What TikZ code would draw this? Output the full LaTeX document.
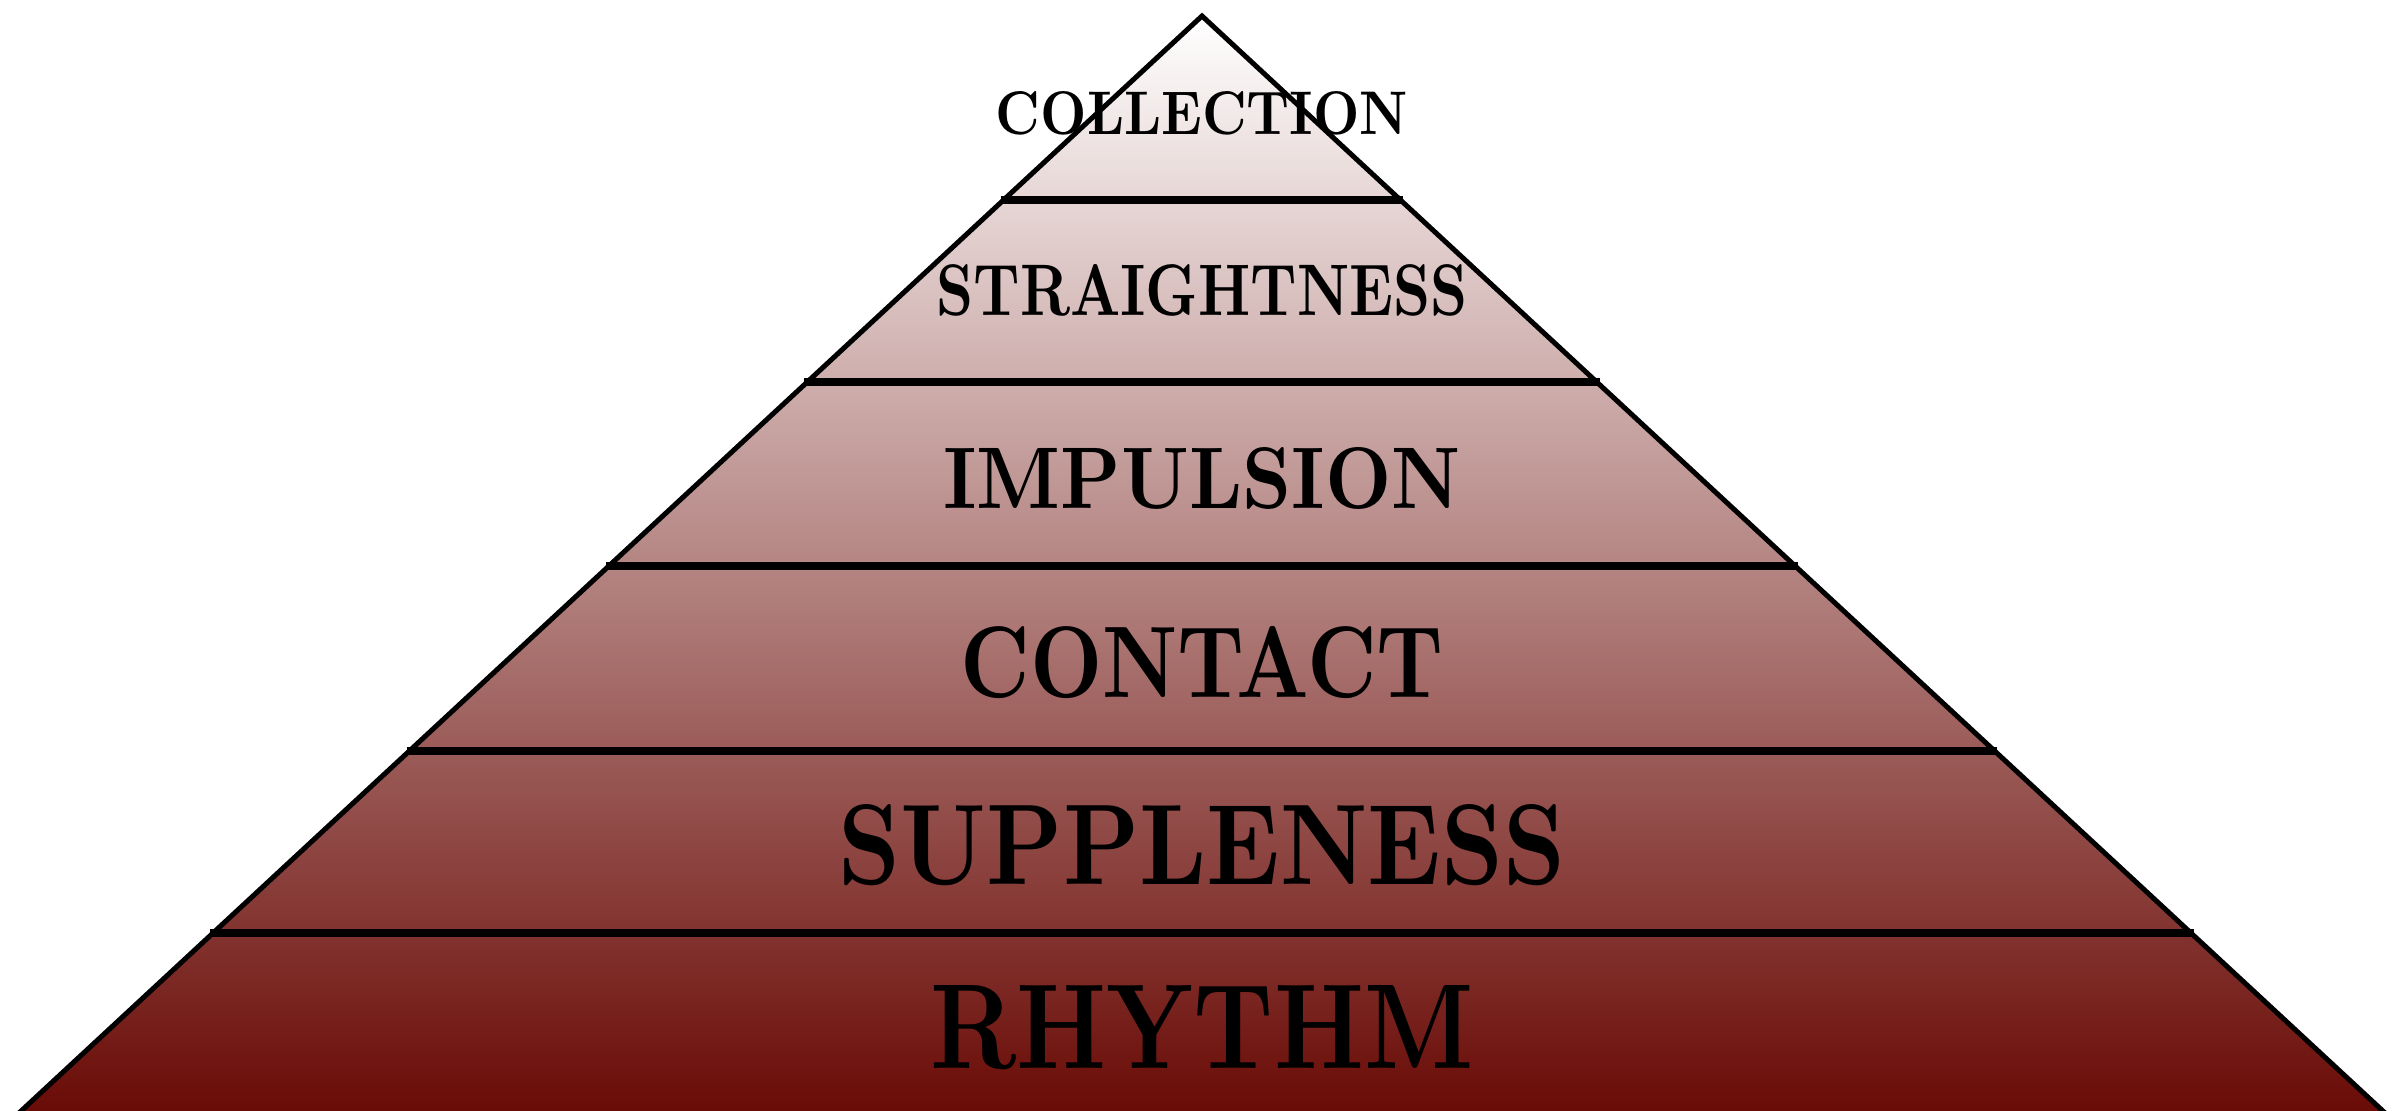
\documentclass[tikz,border=0pt]{standalone}
\usepackage{graphicx}
\usepackage{tikz}
\usetikzlibrary{calc}
\definecolor{pyrtop}{RGB}{255,255,255}
\definecolor{pyrbottom}{RGB}{104,8,3}
\newlength\px
\setlength\px{0.02cm}
\newcommand{\tierlabel}[3]{\resizebox{#2\px}{#3\px}{\textbf{#1}}}
\tikzset{
  pyramid/.style={
    draw=black, line width=5\px, line join=miter,
    top color=pyrtop, bottom color=pyrbottom},
  tier line/.style={draw=black, line width=8\px},
  tier/.style={inner sep=0pt, outer sep=0pt, anchor=center, text=black},
}
\begin{document}
\begin{tikzpicture}[x=0.02cm, y=-0.02cm]

    \useasboundingbox (0,0) rectangle (2405,1111);
    \clip (0,0) rectangle (2405,1111);

    %pyramid
    \path[pyramid] (1202,16) -- (6,1125) -- (2398,1125) -- cycle;

    %tiers
    \foreach \y in {200,382,566,751,933}
        \draw[tier line] ({1202-1.078*(\y-15)-2},\y) -- ({1202+1.078*(\y-15)+2},\y);

    %labels
    \node[tier] (collection)   at (1202,113.5) {\tierlabel{COLLECTION}{412}{43}};
    \node[tier] (straightness) at (1202,290.5) {\tierlabel{STRAIGHTNESS}{531}{51}};
    \node[tier] (impulsion)    at (1202,478.5) {\tierlabel{IMPULSION}{517}{61}};
    \node[tier] (contact)      at (1202,662.5) {\tierlabel{CONTACT}{483}{71}};
    \node[tier] (suppleness)   at (1202,845)   {\tierlabel{SUPPLENESS}{727}{80}};
    \node[tier] (rhythm)       at (1202,1027.5) {\tierlabel{RHYTHM}{543}{83}};

\end{tikzpicture}
\end{document}
